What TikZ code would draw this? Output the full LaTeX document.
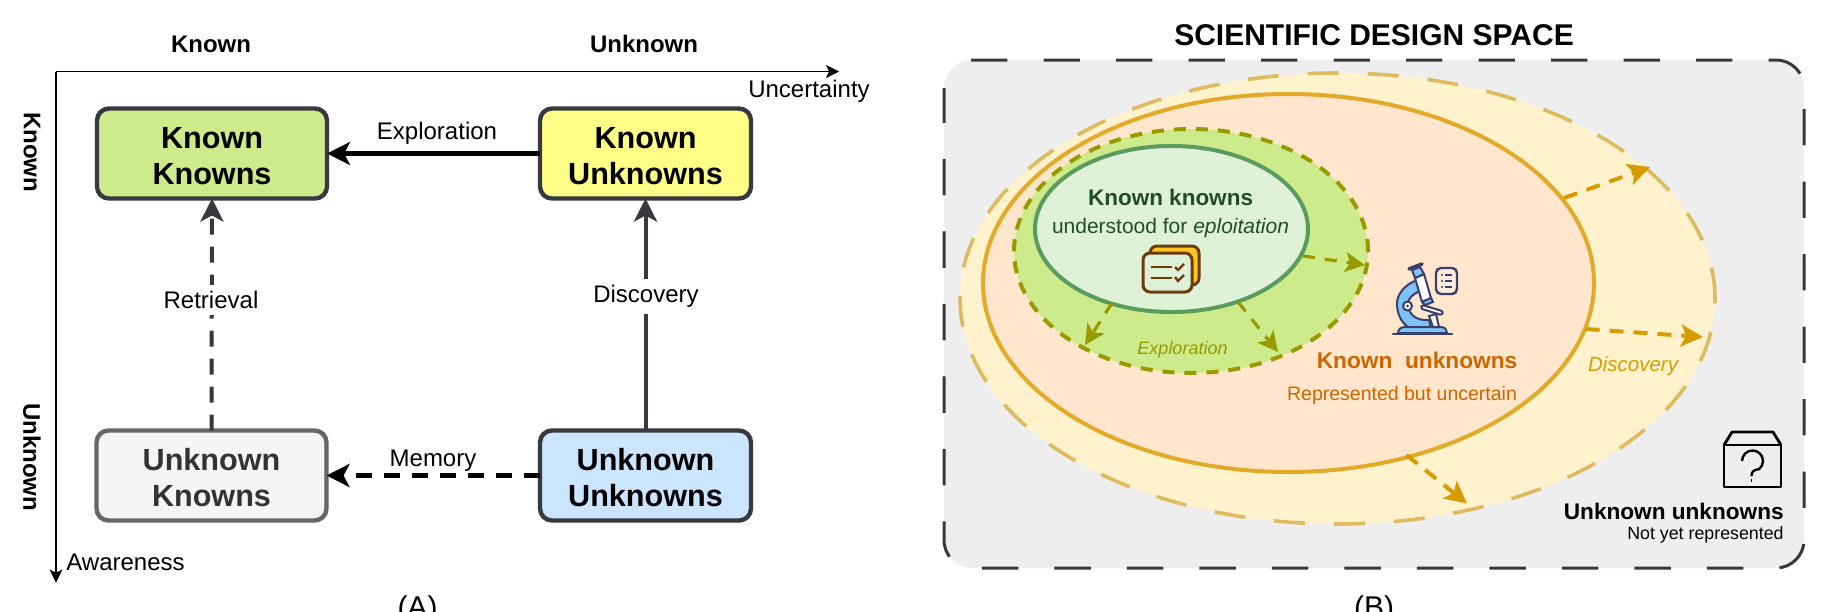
\documentclass[tikz,border=0pt]{standalone}
\usepackage{fontspec}
\setmainfont{Liberation Sans}
\usetikzlibrary{arrows.meta,shapes.geometric}
\definecolor{ink}{HTML}{36393D}
\definecolor{cGreen}{HTML}{CDEB8B}
\definecolor{cYellow}{HTML}{FFFF88}
\definecolor{cGrey}{HTML}{F5F5F5}
\definecolor{cBlue}{HTML}{CCE5FF}
\definecolor{spaceBg}{HTML}{EEEEEE}
\definecolor{outerFill}{HTML}{FFF2CC}
\definecolor{outerLine}{HTML}{DDBB5E}
\definecolor{orangeFill}{HTML}{FFE6CC}
\definecolor{orangeLine}{HTML}{E3A928}
\definecolor{olive}{HTML}{999900}
\definecolor{innerFill}{HTML}{DFF2D8}
\definecolor{innerLine}{HTML}{5B9B5F}
\definecolor{darkGreen}{HTML}{1F4D2B}
\definecolor{kuText}{HTML}{CC6600}
\definecolor{amber}{HTML}{D79B00}
\definecolor{brownLine}{HTML}{6B3A0E}
\definecolor{cardYellow}{HTML}{FFC81E}
\definecolor{navy}{HTML}{3B3F6B}
\definecolor{skyBlue}{HTML}{7CC4F8}
\newcommand{\lift}{\rule{0pt}{13.5pt}}
\tikzset{
  x=0.5pt,y=-0.5pt,
  quad/.style={draw=ink,line width=2.2pt,rounded corners=6pt,outer sep=0pt,inner sep=0pt,
    minimum height=45pt,align=center,font=\fontsize{15.3}{18}\selectfont\bfseries,text=black},
  axislab/.style={font=\fontsize{12}{14}\selectfont\bfseries,inner sep=0pt},
  lab/.style={font=\fontsize{12}{14}\selectfont,inner sep=0pt},
  edgetip/.style={-{Stealth[length=11.5pt,width=11.5pt,inset=3pt]}},
  axistip/.style={-{Stealth[length=6.5pt,width=6.5pt,inset=1.6pt]},line width=0.55pt,black},
  dashthick/.style={dash pattern=on 8pt off 6pt},
  blob/.style={shape=ellipse,inner sep=0pt,outer sep=0pt},
  growth/.style={amber,line width=2pt,dash pattern=on 7pt off 5pt,-{Stealth[length=11pt,width=11pt,inset=2.5pt]}},
  explore/.style={olive,line width=1.6pt,dash pattern=on 6pt off 5pt,-{Stealth[length=10pt,width=10pt,inset=2.5pt]}},
}
\begin{document}
\begin{tikzpicture}
\useasboundingbox (0,0) rectangle (1830,611);
\clip (0,0) rectangle (1830,611);
% ---------- panel A
\coordinate (origin) at (56,71.5);
\coordinate (xend) at (839,71.5);
\coordinate (yend) at (56,582.5);
\draw[axistip] (origin) -- (xend);
\draw[axistip] (origin) -- (yend);
\node[axislab] (tk) at (211,44) {Known};
\node[axislab] (tu) at (644,44) {Unknown};
\node[axislab,rotate=-90] (sk) at (32,152) {Known};
\node[axislab,rotate=-90] (su) at (32,457) {Unknown};
\node[lab] (unc) at (809,91) {Uncertainty};
\node[lab,anchor=west] (awa) at (66,562) {Awareness};
\node[quad,fill=cGreen,minimum width=115pt] (KK) at (212,153.5) {\lift Known\\Knowns};
\node[quad,fill=cYellow,minimum width=105.5pt] (KU) at (645.5,153.5) {\lift Known\\Unknowns};
\node[quad,fill=cGrey,draw=black!60,text=black!80,minimum width=115pt] (UK) at (211.5,475.5) {\lift Unknown\\Knowns};
\node[quad,fill=cBlue,minimum width=105.5pt] (UU) at (645.5,475.5) {\lift Unknown\\Unknowns};
\draw[edgetip,line width=2.3pt,black] (KU.west) -- (KK.east);
\draw[edgetip,line width=2.3pt,black,dashthick] (UU.west) -- (UK.east);
\draw[edgetip,line width=2pt,ink] (UU.north) -- (KU.south);
\draw[edgetip,line width=2pt,ink,dashthick] (UK.north) -- (KK.south);
\node[lab] (lex) at (437,133.5) {Exploration};
\node[lab] (lme) at (433,461) {Memory};
\node[lab,fill=white,inner xsep=2pt,inner ysep=3pt] (lre) at (211,300) {Retrieval};
\node[lab,fill=white,inner xsep=2pt,inner ysep=3pt] (ldi) at (646,296.5) {Discovery};
\node[font=\fontsize{15}{17}\selectfont,inner sep=0pt,anchor=north] (capA) at (417.5,595) {(A)};
% ---------- panel B
\node[font=\fontsize{15}{18}\selectfont\bfseries,inner sep=0pt] (title) at (1374,35.5) {SCIENTIFIC DESIGN SPACE};
\fill[spaceBg,rounded corners=14pt] (944,60) rectangle (1804,568);
\draw[ink,line width=1.5pt,rounded corners=14pt,dash pattern=on 18.2pt off 18.05pt]
  (971,60) -- (1804,60) -- (1804,568) -- (944,568) -- (944,88);
\node[blob,fill=outerFill,draw=outerLine,line width=1.8pt,dash pattern=on 15.5pt off 14.5pt,
  minimum width=377.5pt,minimum height=225.5pt] (outer) at (1337.5,298.5) {};
\node[blob,fill=orangeFill,draw=orangeLine,line width=2pt,
  minimum width=305.5pt,minimum height=189pt] (mid) at (1288.5,283) {};
\node[blob,fill=cGreen,draw=olive,line width=2pt,dash pattern=on 6pt off 5pt,
  minimum width=177pt,minimum height=122pt] (green) at (1191,251) {};
\node[blob,fill=innerFill,draw=innerLine,line width=2pt,
  minimum width=136.5pt,minimum height=83pt] (inner) at (1171.5,229) {};
% growth arrows
\coordinate (g1a) at (1564,198); \coordinate (g1b) at (1650,167);
\coordinate (g2a) at (1585.6,329); \coordinate (g2b) at (1703,337);
\coordinate (g3a) at (1406.5,455); \coordinate (g3b) at (1467,503.5);
\draw[growth] (g1a) -- (g1b);
\draw[growth] (g2a) -- (g2b);
\draw[growth] (g3a) -- (g3b);
\coordinate (e1a) at (1303,256); \coordinate (e1b) at (1365,265);
\coordinate (e2a) at (1112,303); \coordinate (e2b) at (1085,345);
\coordinate (e3a) at (1238,302); \coordinate (e3b) at (1278,352);
\draw[explore] (e1a) -- (e1b);
\draw[explore] (e2a) -- (e2b);
\draw[explore] (e3a) -- (e3b);
% texts
\node[font=\fontsize{11.25}{14}\selectfont\bfseries,text=darkGreen,inner sep=0pt] (t1) at (1170.5,197) {Known knowns};
\node[font=\fontsize{10.5}{12}\selectfont,text=darkGreen,inner sep=0pt] (t2) at (1170.5,228) {understood for \textit{eploitation}};
\node[font=\fontsize{9}{11}\selectfont\itshape,text=olive,inner sep=0pt] (t3) at (1182.5,349.5) {Exploration};
\node[font=\fontsize{11.35}{14}\selectfont\bfseries,text=kuText,inner sep=0pt] (t4) at (1417,360) {Known\ \ unknowns};
\node[font=\fontsize{9.75}{11}\selectfont,text=kuText,inner sep=0pt] (t5) at (1402,395) {Represented but uncertain};
\node[font=\fontsize{10.25}{12}\selectfont\itshape,text=amber,inner sep=0pt] (t6) at (1633,366) {Discovery};
\node[font=\fontsize{11.3}{14}\selectfont\bfseries,inner sep=0pt,anchor=east] (t7) at (1784,511) {Unknown unknowns};
\node[font=\fontsize{8.9}{11}\selectfont,inner sep=0pt,anchor=east] (t8) at (1784,534.5) {Not yet represented};
% checklist cards icon
\draw[brownLine,fill=cardYellow,line width=1.5pt,rounded corners=3.5pt] (1150,246) rectangle (1199,285);
\draw[brownLine,fill=innerFill,line width=1.5pt,rounded corners=3.5pt] (1143,253) rectangle (1192,292);
\draw[brownLine,line width=1.4pt] (1151,267) -- (1172,267);
\draw[brownLine,line width=1.4pt] (1151,278) -- (1172,278);
\draw[brownLine,line width=1.2pt] (1175,267) -- (1178,270) -- (1184,264);
\draw[brownLine,line width=1.2pt] (1175,277) -- (1178,281) -- (1184,275);
% microscope icon
\draw[navy,fill=skyBlue,line width=1pt,line join=round] (1417,280) .. controls (1404,285) and (1396,295) .. (1397,306) .. controls (1398,318) and (1404,325) .. (1410,328) -- (1431,328) -- (1429,320) .. controls (1416,321) and (1408,314) .. (1408,304) .. controls (1408,298) and (1413,294) .. (1420,291) -- cycle;
\draw[navy,fill=skyBlue,line width=1pt,line join=round] (1398,333) .. controls (1398,329) and (1401,327) .. (1405,327) -- (1441,327) .. controls (1445,327) and (1447,330) .. (1447,333) -- cycle;
\draw[navy,line width=1.3pt,line cap=round] (1393,334) -- (1452,334);
\draw[navy,fill=white,line width=1pt] (1429,316) -- (1436,314) -- (1439,327) -- (1433,327) -- cycle;
\draw[navy,fill=white,line width=1pt,rotate around={-17:(1432,310)},rounded corners=1pt] (1421,308) rectangle (1443,312);
\draw[navy,fill=white,line width=1pt,line join=round] (1415,278) -- (1424,274) -- (1431,298) -- (1422,302) -- cycle;
\draw[navy,fill=skyBlue,line width=1pt,line join=round] (1422,302) -- (1431,298) -- (1433,302) -- (1425,305) -- cycle;
\draw[navy,fill=skyBlue,line width=1pt] (1412,270) -- (1420,267) -- (1424,274) -- (1415,278) -- cycle;
\draw[navy,line width=1.8pt,line cap=round] (1409,269) -- (1422,264);
\draw[navy,fill=white,line width=1pt] (1407.5,306) circle [radius=4.5];
\fill[navy] (1407.5,306) circle [radius=1.5];
\draw[navy,fill=orangeFill!70!white,line width=1.2pt,rounded corners=2.5pt] (1436,268) rectangle (1457,294);
\foreach \yy in {275,281,287}{
  \fill[navy] (1442,\yy) circle [radius=1.1];
  \draw[navy,line width=.9pt] (1445,\yy) -- (1452,\yy);
}
% unknown box icon
\begin{scope}[xshift=1pt,yshift=-0.5pt]
\draw[black,line width=1.4pt,line join=round] (1722,444) rectangle (1779,486);
\draw[black,line width=1.4pt,line join=round] (1722,444) -- (1730,431) -- (1771,431) -- (1779,444);
\draw[black,line width=1.2pt] (1740,460) arc[start angle=180,end angle=-50,x radius=10.5,y radius=-10.5] .. controls (1752,469) and (1749.5,470) .. (1749.5,475);
\fill[black] (1749,478) rectangle (1750.4,480.5);
\end{scope}
\node[font=\fontsize{15}{17}\selectfont,inner sep=0pt,anchor=north] (capB) at (1374,595) {(B)};
\end{tikzpicture}
\end{document}
